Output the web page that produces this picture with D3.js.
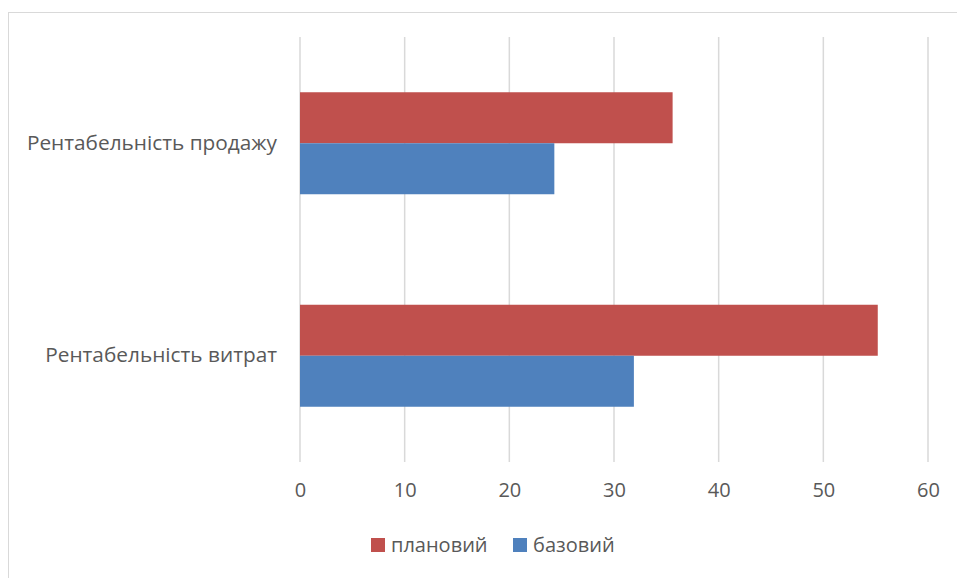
<!DOCTYPE html>
<html>
<head>
<meta charset="utf-8">
<script src="https://cdn.jsdelivr.net/npm/d3@7"></script>
<style>
  body { margin: 0; background: #fff; }
  text { font-family: "Open Sans", "Noto Sans", sans-serif; fill: #595959; }
</style>
</head>
<body>
<script>
// Chart data
let categories = ["Рентабельність продажу", "Рентабельність витрат"];
let seriesNames = ["плановий", "базовий"];
let planValues = [35.6, 55.2];
let baseValues = [24.3, 31.9];
let xTicks = [0, 10, 20, 30, 40, 50, 60];
let colors = ["#c0504d", "#4f81bd"];

let W = 957, H = 578;
let margin = { top: 37, right: 29, bottom: 116, left: 300 };
let width = W - margin.left - margin.right;
let height = H - margin.top - margin.bottom;

let root = d3.select("body")
  .append("svg")
    .attr("width", W)
    .attr("height", H);

// Outer chart frame
root.append("rect")
  .attr("x", 8.5)
  .attr("y", 12.5)
  .attr("width", 970)
  .attr("height", 600)
  .attr("fill", "none")
  .attr("stroke", "#d9d9d9")
  .attr("stroke-width", 1);

let svg = root.append("g")
  .attr("transform", "translate(" + margin.left + ", " + margin.top + ")");

let x = d3.scaleLinear()
  .domain([0, 60])
  .range([0, width]);

let y = d3.scaleBand()
  .domain(categories)
  .range([0, height]);

let inner = d3.scaleBand()
  .domain(seriesNames)
  .range([0, y.bandwidth() * 0.48])
  .padding(0);

// Vertical gridlines
svg.selectAll(".grid")
  .data(xTicks).enter()
  .append("line")
    .attr("x1", (d) => x(d))
    .attr("x2", (d) => x(d))
    .attr("y1", 0)
    .attr("y2", height)
    .attr("stroke", "#d9d9d9")
    .attr("stroke-width", 1.5);

// Bars
let rows = categories.map((c, i) => ({
  cat: c,
  vals: [
    { name: seriesNames[0], value: planValues[i], color: colors[0] },
    { name: seriesNames[1], value: baseValues[i], color: colors[1] }
  ]
}));

let groups = svg.selectAll(".group")
  .data(rows).enter()
  .append("g")
    .attr("transform", (d) => "translate(0, " + (y(d.cat) + y.bandwidth() * 0.26) + ")");

groups.selectAll("rect")
  .data((d) => d.vals).enter()
  .append("rect")
    .attr("x", x(0))
    .attr("y", (d) => inner(d.name))
    .attr("width", (d) => x(d.value) - x(0))
    .attr("height", inner.bandwidth())
    .attr("fill", (d) => d.color);

// X axis labels
let xAxis = svg.append("g")
  .attr("transform", "translate(0, " + height + ")")
  .call(d3.axisBottom(x).tickValues(xTicks).tickSize(0).tickPadding(21));
xAxis.select(".domain").remove();
xAxis.selectAll("text")
  .style("font-size", "20px")
  .attr("fill", "#595959");

// Category labels
let yAxis = svg.append("g")
  .call(d3.axisLeft(y).tickSize(0).tickPadding(23));
yAxis.select(".domain").remove();
yAxis.selectAll("text")
  .style("font-size", "20.8px")
  .attr("fill", "#595959");

// Legend
let legend = root.append("g")
  .attr("transform", "translate(371, 545)");
let items = [
  { name: seriesNames[0], color: colors[0], dx: 0 },
  { name: seriesNames[1], color: colors[1], dx: 142 }
];
let li = legend.selectAll(".item")
  .data(items).enter()
  .append("g")
    .attr("transform", (d) => "translate(" + d.dx + ", 0)");
li.append("rect")
  .attr("x", 0)
  .attr("y", -7)
  .attr("width", 14)
  .attr("height", 14)
  .attr("fill", (d) => d.color);
li.append("text")
  .attr("x", 20)
  .attr("y", 0)
  .attr("dy", "0.35em")
  .style("font-size", "20px")
  .text((d) => d.name);
</script>
</body>
</html>
